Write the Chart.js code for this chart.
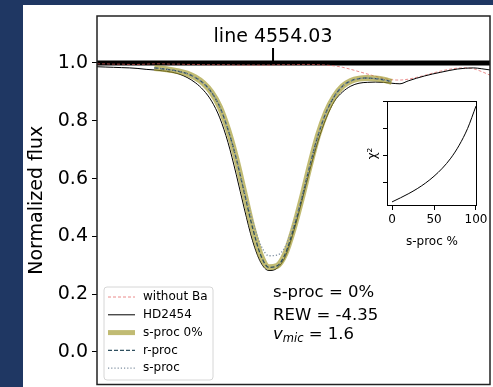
<!DOCTYPE html>
<html>
<head>
<meta charset="utf-8">
<script src="https://cdn.jsdelivr.net/npm/chart.js@4.4.1/dist/chart.umd.min.js"></script>
<style>
  html, body { margin: 0; padding: 0; }
  body { width: 493px; height: 387px; background: #1f3763; position: relative; overflow: hidden; }
  #panel { position: absolute; left: 23px; top: 5px; width: 470px; height: 382px; background: #fff; }
  #main { position: absolute; left: 0; top: 0; }
  #inset { position: absolute; left: 332px; top: 90px; }
</style>
</head>
<body>
<div id="panel">
  <canvas id="main" width="470" height="382"></canvas>
  <canvas id="inset" width="135" height="165"></canvas>
</div>
<script>
// spectrum around the Ba II line
const wavelength = [
  4553.60, 4553.62, 4553.64, 4553.66, 4553.68, 4553.70, 4553.72, 4553.74, 4553.76, 4553.78,
  4553.80, 4553.82, 4553.84, 4553.86, 4553.88, 4553.90, 4553.92, 4553.94, 4553.96, 4553.98,
  4554.00, 4554.02, 4554.04, 4554.06, 4554.08, 4554.10, 4554.12, 4554.14, 4554.16, 4554.18,
  4554.20, 4554.22, 4554.24, 4554.26, 4554.28, 4554.30, 4554.32, 4554.34, 4554.36, 4554.38,
  4554.40, 4554.42, 4554.44, 4554.46, 4554.48, 4554.50, 4554.52, 4554.54, 4554.56
];

const fluxNoBa = [
  0.997, 0.997, 0.996, 0.996, 0.995, 0.995, 0.996, 0.997, 0.997, 0.996,
  0.996, 0.995, 0.995, 0.994, 0.994, 0.994, 0.994, 0.993, 0.993, 0.993,
  0.993, 0.993, 0.994, 0.994, 0.994, 0.995, 0.995, 0.994, 0.993, 0.990,
  0.985, 0.978, 0.970, 0.962, 0.954, 0.947, 0.942, 0.941, 0.944, 0.950,
  0.957, 0.965, 0.972, 0.978, 0.982, 0.983, 0.980, 0.970, 0.958
];

const fluxHD2454 = [
  0.987, 0.986, 0.985, 0.984, 0.983, 0.981, 0.978, 0.976, 0.973, 0.969,
  0.962, 0.950, 0.932, 0.906, 0.868, 0.810, 0.725, 0.615, 0.495, 0.385,
  0.310, 0.282, 0.290, 0.330, 0.415, 0.520, 0.630, 0.730, 0.810, 0.868,
  0.900, 0.920, 0.930, 0.933, 0.934, 0.933, 0.930, 0.928, 0.938, 0.947,
  0.955, 0.962, 0.968, 0.974, 0.979, 0.982, 0.983, 0.980, 0.976
];

// best fit synthesis (s-proc 0%) and the pure r-process one coincide
const fluxFit = [
  null, null, null, null, null, null, null, 0.983, 0.980, 0.976,
  0.971, 0.963, 0.950, 0.930, 0.898, 0.848, 0.770, 0.670, 0.550, 0.430,
  0.335, 0.293, 0.298, 0.340, 0.425, 0.530, 0.645, 0.750, 0.830, 0.885,
  0.920, 0.938, 0.946, 0.948, 0.946, 0.942, 0.935, null, null, null,
  null, null, null, null, null, null, null, null, null
];
const fluxRproc = fluxFit;

const fluxSproc = [
  null, null, null, null, null, null, null, 0.983, 0.980, 0.976,
  0.971, 0.963, 0.950, 0.930, 0.898, 0.848, 0.770, 0.670, 0.555, 0.455,
  0.370, 0.333, 0.335, 0.365, 0.440, 0.535, 0.645, 0.750, 0.830, 0.885,
  0.920, 0.938, 0.946, 0.948, 0.946, 0.942, 0.935, null, null, null,
  null, null, null, null, null, null, null, null, null
];

const lineCentre = 4554.03;
const lineLabel = 'line 4554.03';
const yTicks = [0.0, 0.2, 0.4, 0.6, 0.8, 1.0];

// chi-square against s-process fraction
const sprocPercent = [0, 10, 20, 30, 40, 50, 60, 70, 80, 90, 100];
const chiSquare = [0.30, 0.45, 0.61, 0.79, 1.00, 1.25, 1.55, 1.92, 2.40, 3.02, 3.85];
const chiXTicks = [0, 50, 100];
const chiYTicks = [1, 2, 3, 4];

const FONT = "'DejaVu Sans', sans-serif";
const X_MIN = 4553.6, X_MAX = 4554.56;

const pts = (ys) => wavelength.map((w, i) => ({ x: w, y: ys[i] }));

const colours = {
  noBa: 'rgba(225, 90, 90, 0.7)',
  star: '#000',
  fit: 'rgba(160, 150, 40, 0.65)',
  rproc: '#2f4f5f',
  sproc: '#7f8fa0',
};

const series = [
  { label: 'without Ba', data: pts(fluxNoBa), color: colours.noBa, width: 1, dash: [3, 2], order: 5 },
  { label: 'HD2454', data: pts(fluxHD2454), color: colours.star, width: 1, dash: [], order: 4 },
  { label: 's-proc 0%', data: pts(fluxFit), color: colours.fit, width: 6, dash: [], order: 3 },
  { label: 'r-proc', data: pts(fluxRproc), color: colours.rproc, width: 1.3, dash: [4, 2], order: 2 },
  { label: 's-proc', data: pts(fluxSproc), color: colours.sproc, width: 1.3, dash: [1.2, 2], order: 1 },
];

const datasets = [
  // continuum marker and line position
  { data: [{ x: X_MIN, y: 1.0 }, { x: X_MAX, y: 1.0 }], borderColor: '#000', borderWidth: 5, order: 10 },
  { data: [{ x: lineCentre, y: 1.0 }, { x: lineCentre, y: 1.052 }], borderColor: '#000', borderWidth: 2, order: 10 },
].concat(series.map(s => ({
  label: s.label,
  data: s.data,
  borderColor: s.color,
  borderWidth: s.width,
  borderDash: s.dash,
  order: s.order,
  cubicInterpolationMode: 'monotone',
  spanGaps: false,
})));

const noEdgePadding = (s) => {
  s.paddingTop = 0;
  s.paddingBottom = 0;
  s.paddingLeft = 0;
  s.paddingRight = 0;
};

const textPlugin = {
  id: 'texts',
  afterDatasetsDraw(chart) {
    const { ctx, chartArea: a, scales: { x, y } } = chart;
    ctx.save();
    // axes frame
    ctx.strokeStyle = '#222';
    ctx.lineWidth = 1.5;
    ctx.setLineDash([]);
    ctx.strokeRect(a.left, a.top, a.right - a.left, a.bottom - a.top);

    ctx.fillStyle = '#000';
    ctx.textBaseline = 'middle';
    ctx.textAlign = 'center';
    ctx.font = `19px ${FONT}`;
    ctx.fillText(lineLabel, x.getPixelForValue(lineCentre), y.getPixelForValue(1.09));

    // fit results
    ctx.textAlign = 'left';
    ctx.font = `16.5px ${FONT}`;
    const tx = x.getPixelForValue(lineCentre);
    ctx.fillText('s-proc = 0%', tx, y.getPixelForValue(0.204));
    ctx.fillText('REW = -4.35', tx, y.getPixelForValue(0.125));
    const vy = y.getPixelForValue(0.059);
    ctx.font = `italic 16.5px ${FONT}`;
    ctx.fillText('v', tx, vy);
    let cx = tx + ctx.measureText('v').width;
    ctx.font = `italic 11.5px ${FONT}`;
    ctx.fillText('mic', cx, vy + 4);
    cx += ctx.measureText('mic').width;
    ctx.font = `16.5px ${FONT}`;
    ctx.fillText(' = 1.6', cx, vy);

    // legend
    const lx = a.left + 7, ly = a.bottom - 97.5, lw = 109, lh = 93;
    ctx.beginPath();
    ctx.roundRect(lx, ly, lw, lh, 3);
    ctx.fillStyle = 'rgba(255,255,255,0.85)';
    ctx.fill();
    ctx.strokeStyle = '#d6d6d6';
    ctx.lineWidth = 1;
    ctx.stroke();
    ctx.font = `12px ${FONT}`;
    series.forEach((s, i) => {
      const ey = ly + 10 + i * 17.8;
      ctx.beginPath();
      ctx.strokeStyle = s.color;
      ctx.lineWidth = s.width === 6 ? 5 : s.width;
      ctx.setLineDash(s.dash);
      ctx.moveTo(lx + 4, ey);
      ctx.lineTo(lx + 31, ey);
      ctx.stroke();
      ctx.setLineDash([]);
      ctx.fillStyle = '#000';
      ctx.fillText(s.label, lx + 39, ey);
    });
    ctx.restore();
  }
};

new Chart(document.getElementById('main'), {
  type: 'line',
  data: { datasets },
  options: {
    responsive: false,
    animation: false,
    events: [],
    layout: { padding: { left: 0, top: 11, right: 3, bottom: 2.5 } },
    elements: { point: { radius: 0 }, line: { borderCapStyle: 'butt' } },
    plugins: { legend: { display: false }, tooltip: { enabled: false } },
    scales: {
      x: { type: 'linear', min: X_MIN, max: X_MAX, display: false },
      y: {
        type: 'linear',
        min: -0.1125,
        max: 1.1626,
        afterBuildTicks: (s) => { s.ticks = yTicks.map(v => ({ value: v })); },
        afterFit: (s) => { s.width = 74; noEdgePadding(s); },
        ticks: { color: '#000', font: { family: FONT, size: 19 }, padding: 4, callback: (v) => v.toFixed(1) },
        grid: { drawOnChartArea: false, drawTicks: true, tickLength: 5, tickColor: '#000', tickWidth: 1 },
        border: { display: false },
        title: { display: true, text: 'Normalized flux', color: '#000', font: { family: FONT, size: 19 }, padding: { top: 3, bottom: 0 } },
      },
    },
  },
  plugins: [textPlugin],
});

// inset: chi-square curve
const insetFrame = {
  id: 'insetFrame',
  beforeDatasetsDraw(chart) {
    const { ctx, chartArea: a } = chart;
    ctx.save();
    ctx.fillStyle = '#fff';
    ctx.fillRect(a.left, a.top, a.right - a.left, a.bottom - a.top);
    ctx.restore();
  },
  afterDatasetsDraw(chart) {
    const { ctx, chartArea: a } = chart;
    ctx.save();
    ctx.strokeStyle = '#000';
    ctx.lineWidth = 1;
    ctx.strokeRect(a.left + 0.5, a.top + 0.5, a.right - a.left - 1, a.bottom - a.top - 1);
    ctx.restore();
  }
};

new Chart(document.getElementById('inset'), {
  type: 'line',
  data: {
    datasets: [{
      data: sprocPercent.map((p, i) => ({ x: p, y: chiSquare[i] })),
      borderColor: '#000',
      borderWidth: 1,
      cubicInterpolationMode: 'monotone',
    }],
  },
  options: {
    responsive: false,
    animation: false,
    events: [],
    layout: { padding: { left: 0, top: 6, right: 13, bottom: 0 } },
    elements: { point: { radius: 0 } },
    plugins: { legend: { display: false }, tooltip: { enabled: false } },
    scales: {
      x: {
        type: 'linear', min: -6, max: 101.2,
        afterBuildTicks: (s) => { s.ticks = chiXTicks.map(v => ({ value: v })); },
        afterFit: (s) => { s.height = 54; noEdgePadding(s); },
        ticks: { color: '#000', font: { family: FONT, size: 12 }, padding: 3, maxRotation: 0 },
        grid: { drawOnChartArea: false, drawTicks: true, tickLength: 4, tickColor: '#000' },
        border: { display: false },
        title: { display: true, text: 's-proc %', color: '#000', font: { family: FONT, size: 12 }, padding: { top: 0, bottom: 11 } },
      },
      y: {
        type: 'linear', min: 0.148, max: 4.037,
        afterBuildTicks: (s) => { s.ticks = chiYTicks.map(v => ({ value: v })); },
        afterFit: (s) => { s.width = 32; noEdgePadding(s); },
        ticks: { display: false },
        grid: { drawOnChartArea: false, drawTicks: true, tickLength: 4, tickColor: '#000' },
        border: { display: false },
        title: { display: true, text: 'χ²', color: '#000', font: { family: FONT, size: 12 }, padding: { top: 11, bottom: 0 } },
      },
    },
  },
  plugins: [insetFrame],
});
</script>
</body>
</html>
